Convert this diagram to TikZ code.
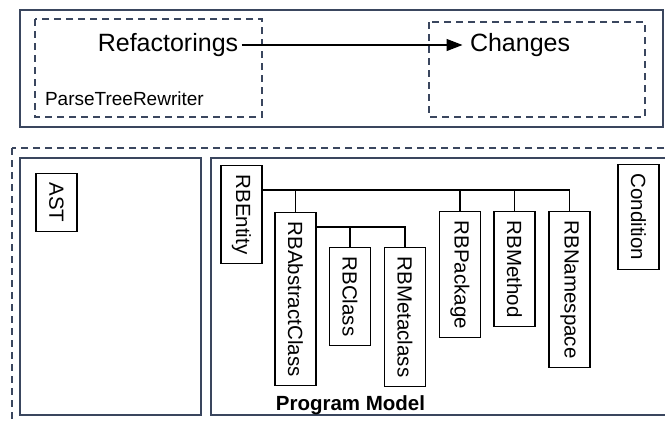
\documentclass[tikz,border=0pt]{standalone}
\usepackage{fontspec}
\setmainfont{Liberation Sans}
\usetikzlibrary{arrows.meta,positioning}
\definecolor{frame}{RGB}{58,70,94}

\begin{document}
\begin{tikzpicture}[x=1pt, y=-1pt,
  cls/.style={draw, line width=1.2pt, rotate=-90, anchor=west, minimum height=41pt, inner xsep=9pt, font=\fontsize{20.5}{24}\selectfont},
  region/.style={draw=frame, line width=1.4pt},
  group/.style={draw=frame, line width=1.2pt, dash pattern=on 7pt off 5pt},
  link/.style={line width=1.3pt}]
\useasboundingbox (0,0) rectangle (665,421);
\clip (0,0) rectangle (665,421);

% rewriting engine
\draw[region] (20,10) rectangle (663,127);
\draw[group] (35,19) rectangle (262,117);
\draw[group] (429,22) rectangle (645,117);

\node[font=\fontsize{25}{30}\selectfont] (Refactorings) at (168,45) {Refactorings};
\node[font=\fontsize{25}{30}\selectfont, anchor=west] (Changes) at (466.5,45) {Changes};
\node[font=\fontsize{19}{22}\selectfont, anchor=west] (ParseTreeRewriter) at (41.5,98.5) {ParseTreeRewriter};

\draw[link, -{Triangle[length=16pt,width=12pt]}, shorten >=4pt] (Refactorings) -- (Changes);

% code model
\draw[group] (12,148) rectangle (700,440);
\draw[region] (20,158) rectangle (201,415);
\draw[region] (211,158) rectangle (700,415);

\node[cls] (AST) at (56.5,173) {AST};

\node[cls] (RBEntity) at (241.5,165) {RBEntity};
\node[cls] (RBAbstractClass) at (295.5,212) {RBAbstractClass};
\node[cls] (RBClass) at (350,247) {RBClass};
\node[cls] (RBMetaclass) at (405,247) {RBMetaclass};
\node[cls] (RBPackage) at (460,211) {RBPackage};
\node[cls] (RBMethod) at (514.5,211) {RBMethod};
\node[cls] (RBNamespace) at (569.5,211) {RBNamespace};
\node[cls] (Condition) at (638.5,164) {Condition};

\coordinate (bus) at (0,190);
\coordinate (subbus) at (0,227);

\draw[link] (RBEntity.north |- bus) -| (RBNamespace.west);
\foreach \c in {RBAbstractClass, RBPackage, RBMethod}
  \draw[link] (\c.west) -- (\c.west |- bus);
\draw[link] (RBAbstractClass.north |- subbus) -| (RBMetaclass.west);
\draw[link] (RBClass.west) -- (RBClass.west |- subbus);

\node[font=\bfseries\fontsize{20.5}{24}\selectfont] (ProgramModel) at (350.5,405) {Program Model};

\end{tikzpicture}
\end{document}
